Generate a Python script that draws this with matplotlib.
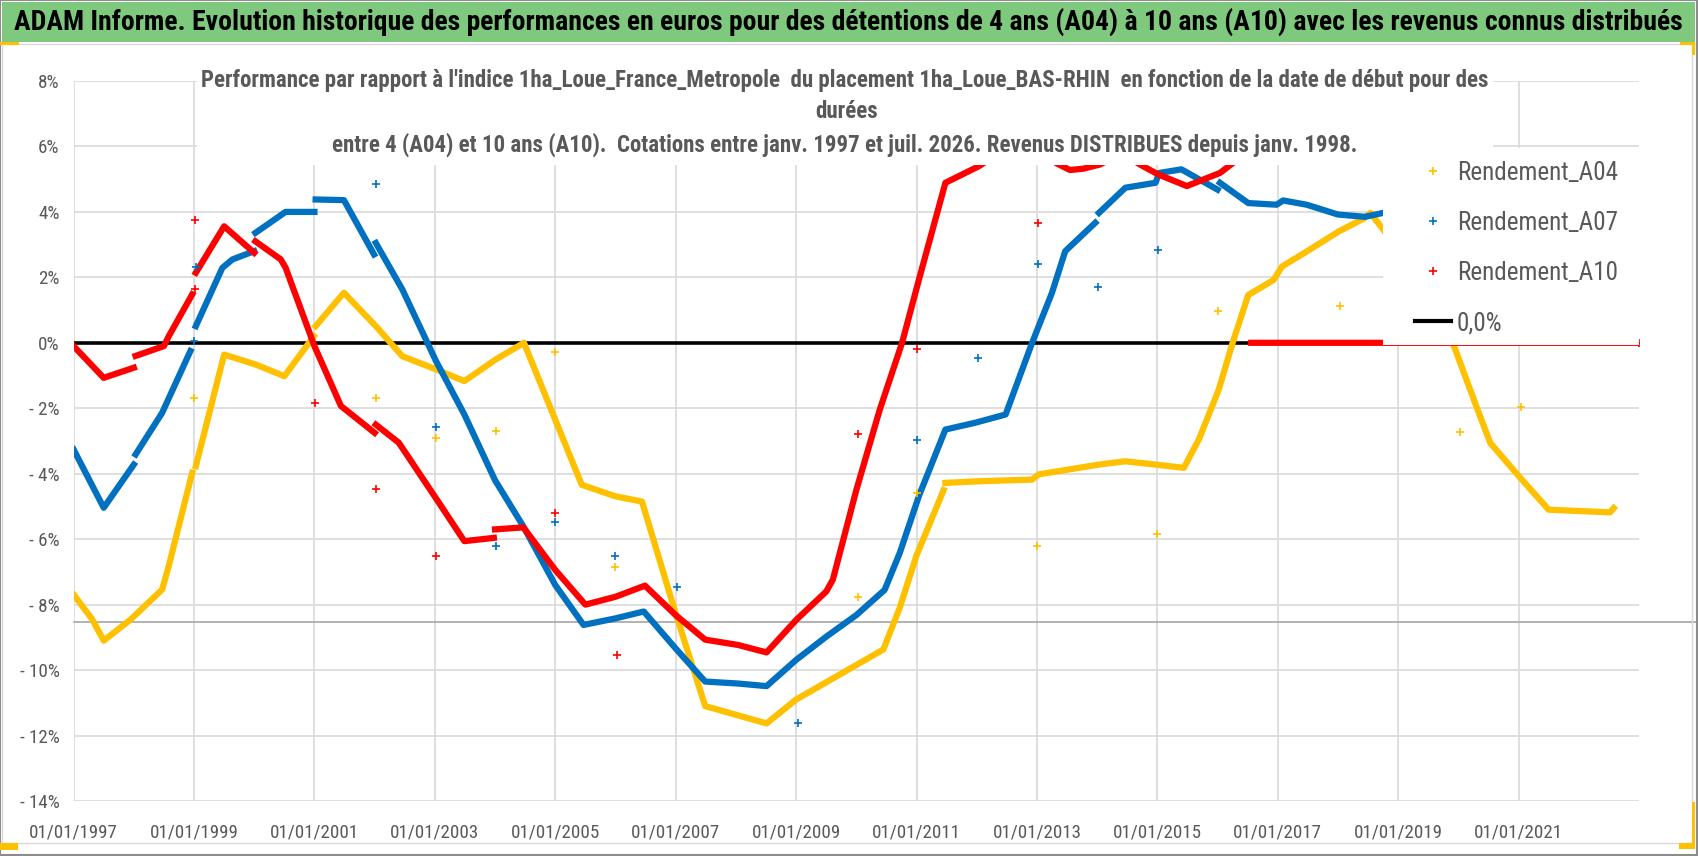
import numpy as np
import matplotlib
matplotlib.use("Agg")
import matplotlib.pyplot as plt
from matplotlib.patches import Rectangle
from matplotlib import font_manager

# pick a narrow sans face (the original uses Calibri)
fonts = font_manager.fontManager.ttflist
names = {f.name for f in fonts}
family, stretch = 'DejaVu Sans', 'normal'
for n in ['Liberation Sans Narrow', 'Roboto Condensed', 'Noto Sans Condensed',
          'Open Sans Condensed', 'Arial Narrow', 'DejaVu Sans Condensed']:
    if n in names:
        family = n
        break
else:
    for pref in ['Noto Sans', 'Open Sans', 'Roboto', 'DejaVu Sans']:
        cands = [f for f in fonts if f.name == pref and f.stretch in ('condensed', 'semi-condensed')]
        if cands:
            family, stretch = pref, cands[0].stretch
            break
plt.rcParams['font.family'] = [family, 'DejaVu Sans']
plt.rcParams['font.stretch'] = stretch

nan = np.nan

# Rendement_A04 (yellow), decimal years / % ; nan = break in the series
a04_x = [1997.0, 1997.31, 1997.5, 1997.95, 1998.47, 1998.58, 1998.97, nan, 1999.03, 1999.5,
         2000.02, 2000.5, 2000.99, nan, 2001.02, 2001.49, 2002.02, 2002.46, 2003.02, 2003.49,
         2004.01, 2004.48, 2005.0, 2005.44, 2006.0, 2006.44, 2007.0, 2007.49, 2008.51, 2009.0,
         2010.45, 2010.72, 2011.0, 2011.45, nan, 2011.48, 2012.04, 2012.92, 2013.03, 2014.03,
         2014.47, 2014.97, 2015.44, 2015.69, 2016.02, 2016.25, 2016.51, 2016.93, 2017.07, 2017.48,
         2018.01, 2018.43, 2018.54, 2018.76, 2019.2, 2019.6, 2019.94, 2020.31, 2020.53, 2021.03,
         2021.5, 2022.52, 2022.58]
a04_y = [-7.69, -8.45, -9.1, -8.45, -7.54, -6.82, -3.97, nan, -3.77, -0.36,
         -0.66, -1.02, 0.2, nan, 0.51, 1.53, 0.51, -0.41, -0.81, -1.17,
         -0.51, 0.0, -2.35, -4.34, -4.69, -4.85, -8.27, -11.1, -11.63, -10.9,
         -9.37, -8.1, -6.5, -4.5, nan, -4.28, -4.23, -4.18, -4.02, -3.72,
         -3.62, -3.72, -3.82, -2.95, -1.43, 0.0, 1.46, 1.92, 2.33, 2.79,
         3.4, 3.8, 3.97, 3.44, 2.3, 1.0, -0.16, -2.0, -3.06, -4.13,
         -5.1, -5.18, -5.05]

# Rendement_A07 (blue)
a07_x = [1997.0, 1997.5, 1998.0, nan, 1998.03, 1998.47, 1998.94, nan, 1999.03, 1999.47,
         1999.64, 2000.0, nan, 2000.02, 2000.52, 2001.0, nan, 2001.02, 2001.49, 2001.99,
         nan, 2002.02, 2002.46, 2003.02, 2003.49, 2004.0, 2004.47, 2005.0, 2005.47, 2006.0,
         2006.47, 2007.0, 2007.49, 2008.03, 2008.51, 2009.0, 2009.5, 2010.0, 2010.47, 2010.72,
         2011.04, 2011.48, 2011.98, 2012.48, 2012.92, 2013.25, 2013.47, 2013.97, nan, 2014.03,
         2014.47, 2014.97, 2015.03, 2015.4, 2016.0, nan, 2016.04, 2016.51, 2016.98, 2017.09,
         2017.48, 2018.0, 2018.45, 2018.75, 2019.3]
a07_y = [-3.26, -5.04, -3.72, nan, -3.41, -2.14, -0.25, nan, 0.51, 2.29,
         2.55, 2.8, nan, 3.36, 4.0, 4.0, nan, 4.38, 4.36, 2.7,
         nan, 3.05, 1.63, -0.56, -2.19, -4.2, -5.61, -7.4, -8.62, -8.42,
         -8.21, -9.34, -10.35, -10.41, -10.49, -9.69, -8.98, -8.32, -7.55, -6.43,
         -4.68, -2.65, -2.44, -2.19, 0.0, 1.53, 2.8, 3.67, nan, 3.97,
         4.74, 4.89, 5.19, 5.3, 4.68, nan, 4.89, 4.27, 4.22, 4.35,
         4.22, 3.92, 3.85, 3.97, 4.0]

# Rendement_A10 (red)
a10_x = [1997.0, 1997.5, 1998.0, nan, 1998.03, 1998.5, 1998.58, 1998.97, nan, 1999.03,
         1999.5, 2000.0, nan, 2000.02, 2000.44, 2000.52, 2001.0, 2001.44, 2002.0, nan,
         2002.02, 2002.4, 2003.0, 2003.49, 2003.98, nan, 2004.0, 2004.47, 2005.0, 2005.5,
         2006.0, 2006.49, 2007.0, 2007.49, 2008.03, 2008.51, 2009.0, 2009.5, 2009.61, 2010.0,
         2010.39, 2010.76, 2011.04, 2011.48, 2012.04, 2012.6, 2013.0, 2013.33, 2013.55, 2013.77,
         2014.05, 2014.4, 2014.71, 2015.02, 2015.49, 2016.04, 2016.26, 2016.5, nan, 2016.56,
         2023.0]
a10_y = [-0.1, -1.07, -0.76, nan, -0.4, -0.1, 0.2, 1.48, nan, 2.14,
         3.56, 2.75, nan, 3.1, 2.55, 2.3, -0.1, -1.93, -2.75, nan,
         -2.5, -3.05, -4.7, -6.06, -5.96, nan, -5.7, -5.64, -6.94, -8.0,
         -7.76, -7.42, -8.32, -9.07, -9.23, -9.46, -8.47, -7.6, -7.24, -4.5,
         -2.04, 0.0, 1.93, 4.89, 5.4, 6.1, 6.0, 5.48, 5.28, 5.32,
         5.45, 5.8, 5.45, 5.14, 4.79, 5.19, 5.5, 5.8, nan, 0.0,
         0.0]

# isolated points (start dates on 1 January)
a04_pts_x = [1999.0, 2002.02, 2003.02, 2004.01, 2005.0, 2006.0, 2010.03, 2011.0, 2013.0, 2015.0,
             2016.01, 2018.04, 2020.02, 2021.04]
a04_pts_y = [-1.68, -1.68, -2.9, -2.7, -0.29, -6.84, -7.77, -4.58, -6.2, -5.83,
             0.96, 1.12, -2.71, -1.96]
a07_pts_x = [1999.03, 1999.0, 2002.02, 2003.02, 2004.01, 2005.0, 2006.0, 2007.03, 2009.03, 2011.01,
             2012.02, 2013.02, 2014.02, 2015.01]
a07_pts_y = [2.32, 0.05, 4.86, -2.57, -6.21, -5.49, -6.51, -7.46, -11.63, -2.97,
             -0.46, 2.41, 1.71, 2.85]
a10_pts_x = [1999.02, 1999.01, 2001.01, 2002.02, 2003.02, 2005.0, 2006.03, 2010.02, 2011.01, 2013.02]
a10_pts_y = [3.75, 1.63, -1.83, -4.46, -6.5, -5.2, -9.53, -2.8, -0.2, 3.67]

series_names = ['Rendement_A04', 'Rendement_A07', 'Rendement_A10']
series_colors = ['#FFC000', '#0070C0', '#FF0000']

year_ticks = list(range(1997, 2022, 2))
pct_ticks = list(range(-14, 9, 2))

title = ("ADAM Informe. Evolution historique des performances en euros pour des détentions "
         "de 4 ans (A04) à 10 ans (A10) avec les revenus connus distribués")
sub1 = ("Performance par rapport à l'indice 1ha_Loue_France_Metropole  du placement "
        "1ha_Loue_BAS-RHIN  en fonction de la date de début pour des")
sub2 = "durées"
sub3 = ("entre 4 (A04) et 10 ans (A10).  Cotations entre janv. 1997 et juil. 2026. "
        "Revenus DISTRIBUES depuis janv. 1998.")

W, H = 1698, 856
fig = plt.figure(figsize=(W / 100, H / 100), dpi=100)
renderer = fig.canvas.get_renderer()


def px_rect(x0, y0, x1, y1, **kw):
    # rectangle given in pixels from the top-left corner
    return Rectangle((x0 / W, 1 - y1 / H), (x1 - x0) / W, (y1 - y0) / H,
                     transform=fig.transFigure, **kw)


def fit(t, target):
    w = t.get_window_extent(renderer).width
    t.set_fontsize(t.get_fontsize() * target / w)
    return t.get_fontsize()


def size_for(txt, target, weight='normal'):
    t = fig.text(0, 0, txt, fontsize=14, fontweight=weight)
    s = fit(t, target)
    t.remove()
    return s


# the face found is narrower than Calibri, so make it a little larger than a pure width fit
tick_size = size_for("01/01/2021", 78) * 1.15
legend_size = size_for("Rendement_A04", 150) * 1.08

# frame, green title bar, selection handles
fig.patches.append(px_rect(0, 0, W - 1, H - 1, fill=False, ec='#8c8c8c', lw=1.5))
fig.patches.append(px_rect(2, 44, 1692, 843, fill=False, ec='#d9d9d9', lw=1))
fig.patches.append(px_rect(2, 2, 1695, 42, color='#7fc97f', lw=0))
for r in [(0, 42, 19, 45), (1680, 42, 1695, 45), (1692, 42, 1695, 55),
          (0, 843, 18, 850), (1679, 843, 1695, 849), (1692, 802, 1695, 849)]:
    fig.patches.append(px_rect(*r, color='#ffc000', lw=0))

ax = fig.add_axes([73.6 / W, 1 - 801 / H, (1639 - 73.6) / W, (801 - 81) / H])
ax.set_facecolor('none')

ax.axhline(0, color='black', lw=2.6, zorder=2)
ax.plot([1997, 2030], [-8.53, -8.53], color='#a6a6a6', lw=1.2, clip_on=False, zorder=1)

lines_x = [a04_x, a07_x, a10_x]
lines_y = [a04_y, a07_y, a10_y]
pts_x = [a04_pts_x, a07_pts_x, a10_pts_x]
pts_y = [a04_pts_y, a07_pts_y, a10_pts_y]
handles = []
for i in range(3):
    ax.plot(lines_x[i], lines_y[i], color=series_colors[i], lw=4.5, zorder=3)
    h, = ax.plot(pts_x[i], pts_y[i], ls='none', marker='+', ms=6, mew=1.2,
                 color=series_colors[i], zorder=4, label=series_names[i])
    handles.append(h)
zero_handle, = ax.plot([], [], color='black', lw=3, label='0,0%')
handles.append(zero_handle)
# end marker of A10
ax.plot([a10_x[-1]], [a10_y[-1]], ls='none', marker='+', ms=6, mew=1.2, color='#FF0000', zorder=4)

# white boxes behind the inner title and the legend
ax.add_patch(Rectangle((1999.05, 5.43), 2020.58 - 1999.05, 4.0, fc='white', ec='none', zorder=5))
ax.add_patch(Rectangle((2018.75, -0.08), 5.0, 6.03, fc='white', ec='none', zorder=5))

ax.set_xlim(1997, 2023.0)
ax.set_ylim(-14, 8)
ax.set_xticks(year_ticks)
ax.set_xticklabels([f"01/01/{y}" for y in year_ticks])
ax.set_yticks(pct_ticks)
ax.set_yticklabels([f"{v}%" if v >= 0 else f"- {abs(v)}%" for v in pct_ticks])
ax.tick_params(length=0, labelsize=tick_size, labelcolor='#595959')
ax.tick_params(axis='x', pad=16)
ax.tick_params(axis='y', pad=10)
ax.grid(True, color='#d9d9d9', lw=1.2, zorder=0)
ax.set_axisbelow(True)
for s in ax.spines.values():
    s.set_visible(False)

# legend: rows every 50 px, first label centred at y=173, labels starting at x=1457
fs_px = legend_size * 100 / 72
spacing, anchor_x, anchor_y = 0.9, 1416.0, 157.0
for _ in range(3):
    leg = ax.legend(handles=handles, loc='upper left',
                    bbox_to_anchor=(anchor_x / W, 1 - anchor_y / H),
                    bbox_transform=fig.transFigure, frameon=False, fontsize=legend_size,
                    labelcolor='#595959', handlelength=36 / fs_px,
                    handletextpad=0.25, labelspacing=spacing, borderpad=0, borderaxespad=0)
    leg.set_zorder(6)
    fig.canvas.draw()
    renderer = fig.canvas.get_renderer()
    boxes = [t.get_window_extent(renderer) for t in leg.get_texts()]
    cy = [H - (b.y0 + b.y1) / 2 for b in boxes]
    pitch = (cy[-1] - cy[0]) / 3
    spacing += (50 - pitch) / fs_px
    anchor_y += 173 - cy[0]
    anchor_x += 1457 - boxes[0].x0

t0 = fig.text(848 / W, 1 - 22 / H, title, ha='center', va='center', fontsize=17,
              fontweight='bold', color='black')
fit(t0, 1671)
t1 = fig.text(845 / W, 1 - 81 / H, sub1, ha='center', va='center', fontsize=15,
              fontweight='bold', color='#595959', zorder=7)
fit(t1, 1289)
t2 = fig.text(847 / W, 1 - 112 / H, sub2, ha='center', va='center', fontsize=t1.get_fontsize(),
              fontweight='bold', color='#595959', zorder=7)
t3 = fig.text(845 / W, 1 - 145 / H, sub3, ha='center', va='center', fontsize=t1.get_fontsize(),
              fontweight='bold', color='#595959', zorder=7)

fig.savefig('out.png', dpi=100)
